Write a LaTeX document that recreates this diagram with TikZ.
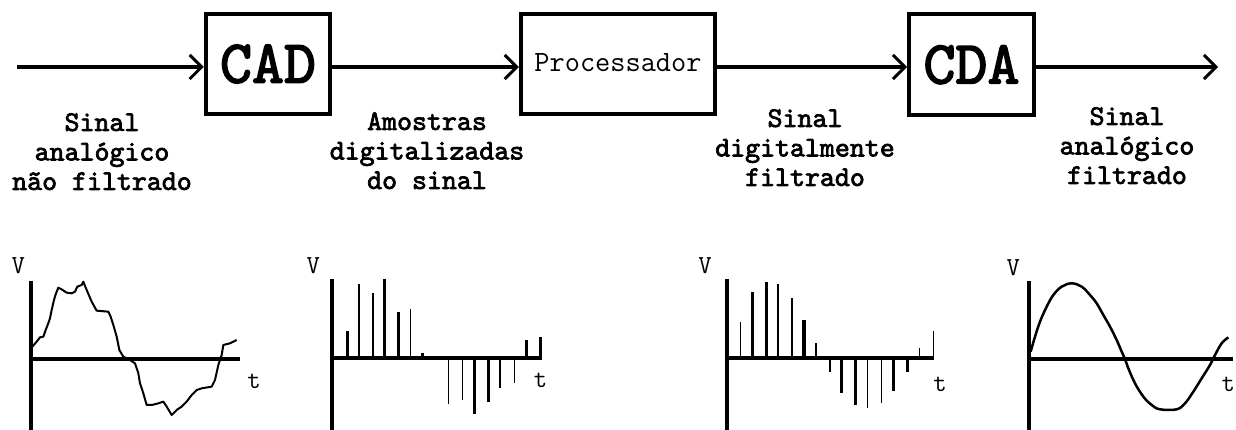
\documentclass[tikz,border=0pt]{standalone}
\usepackage{fontspec}
\newfontfamily\boldtt{lmmono10-regular.otf}[FakeBold=2.5]
\usetikzlibrary{arrows.meta}
\begin{document}
\begin{tikzpicture}[x=1pt,y=-1pt,
  blk/.style={draw,line width=4pt,inner sep=0pt},
  arr/.style={line width=4pt,-{Straight Barb[length=12pt,width=24pt,line width=3pt]}},
  lbl/.style={align=center,inner sep=0pt,anchor=north,font=\boldtt\fontsize{28.5}{29.5}\selectfont},
  ax/.style={line width=4.2pt},
  wave/.style={line width=2pt,line join=round},
  vt/.style={inner sep=0pt,font=\ttfamily\fontsize{26}{26}\selectfont}]
\useasboundingbox (0,0) rectangle (1236,430);
% blocks
\node[blk,minimum width=124.5pt,minimum height=100pt,font=\boldtt\fontsize{61}{61}\selectfont] (cad) at (268,64) {CAD};
\node[blk,minimum width=194.5pt,minimum height=99.5pt,font=\ttfamily\fontsize{29.5}{29.5}\selectfont] (proc) at (618,64) {\raisebox{4pt}{Processador}};
\node[blk,minimum width=125pt,minimum height=100.5pt,font=\boldtt\fontsize{61}{61}\selectfont] (cda) at (971.5,64.75) {CDA};
% connectors
\coordinate (s) at (17,67);
\coordinate (e) at (1218,67);
\draw[arr] (s) -- (s -| cad.west);
\draw[arr] (s -| cad.east) -- (s -| proc.west);
\draw[arr] (s -| proc.east) -- (s -| cda.west);
\draw[arr] (s -| cda.east) -- (e);
% labels
\node[lbl] (l1) at (102,113) {Sinal\\analógico\\não filtrado};
\node[lbl] (l2) at (427,112) {Amostras\\digitalizadas\\do sinal};
\node[lbl] (l3) at (805,109) {Sinal\\digitalmente\\filtrado};
\node[lbl] (l4) at (1127,107) {Sinal\\analógico\\filtrado};
% graph 1
\begin{scope}[shift={(0,240)},x=0.33333pt,y=-0.33333pt]
 \draw[ax] (92,122) -- (92,570);
 \draw[ax] (92,358) -- (720,358);
 \draw[wave] plot coordinates {(97,320) (110,305) (120,292) (130,290) (137,270) (143,255) (150,235) (155,210) (162,180) (168,160) (175,143) (185,148) (200,158) (215,160) (225,155) (232,140) (245,135) (250,125) (260,150) (275,185) (290,212) (325,215) (332,230) (340,255) (350,290) (358,330) (370,350) (390,360) (405,370) (415,400) (420,430) (430,460) (440,495) (455,495) (475,490) (490,485) (500,500) (515,525) (530,510) (545,500) (560,485) (575,465) (590,450) (605,445) (635,440) (645,420) (655,375) (665,345) (670,315) (690,310) (710,300)};
 \node[vt] (v1) at (55,78) {V};
 \node[vt] (t1) at (762,425) {t};
\end{scope}
% graph 2
\begin{scope}[shift={(290,240)},x=0.33333pt,y=-0.33333pt]
 \draw[ax] (127,118) -- (127,570);
 \draw[ax] (127,355) -- (755,355);
 \foreach \a/\b/\w in {172/272/3.3,207/132/2,248/158/2,283/118/3.3,325/215/3,361/207/1.3,398/340/3,475/493/1,517/480/1.3,553/521/3.3,595/486/3,630/443/2.3,673/428/1,709/300/3,751/291/3}
   \draw[line width=\w pt] (\a,355) -- (\a,\b);
 \node[vt] (v2) at (70,78) {V};
 \node[vt] (t2) at (752,420) {t};
\end{scope}
% graph 3
\begin{scope}[shift={(680,240)},x=0.33333pt,y=-0.33333pt]
 \draw[ax] (140,118) -- (140,570);
 \draw[ax] (140,355) -- (762,355);
 \foreach \a/\b/\w in {181/245/1.3,217/156/3,259/126/3,294/132/2.3,336/174/2,372/240/4,408/310/2,450/395/2,484/460/3,526/494/3,562/503/1,604/488/1,640/452/3,682/395/3,718/324/1,760/272/1}
   \draw[line width=\w pt] (\a,355) -- (\a,\b);
 \node[vt] (v3) at (75,78) {V};
 \node[vt] (t3) at (780,432) {t};
\end{scope}
% graph 4
\begin{scope}[shift={(980,240)},x=0.33333pt,y=-0.33333pt]
 \draw[ax] (148,122) -- (148,570);
 \draw[ax] (148,357) -- (760,357);
 \draw[line width=2.5pt] plot[smooth,tension=0.6] coordinates {(152,335) (165,290) (180,245) (200,200) (220,165) (245,140) (275,130) (305,140) (330,165) (350,190) (370,225) (390,260) (410,300) (425,335) (435,357) (445,385) (465,430) (490,470) (515,495) (540,508) (590,508) (615,490) (640,455) (665,415) (690,375) (705,345) (725,310) (745,292)};
 \node[vt] (v4) at (100,82) {V};
 \node[vt] (t4) at (745,432) {t};
\end{scope}
\end{tikzpicture}
\end{document}
